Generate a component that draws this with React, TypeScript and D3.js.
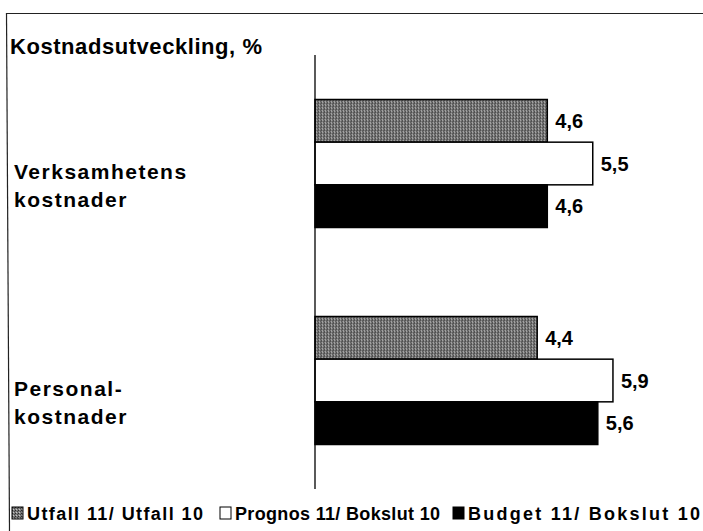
import React, { useRef, useEffect } from 'react';
import * as d3 from 'd3';

const categories = [['Verksamhetens', 'kostnader'], ['Personal-', 'kostnader']];
const seriesNames = ['Utfall 11/ Utfall 10', 'Prognos 11/ Bokslut 10', 'Budget 11/ Bokslut 10'];
const utfall = [4.6, 4.4];
const prognos = [5.5, 5.9];
const budget = [4.6, 5.6];
const title = 'Kostnadsutveckling, %';

const W = 703;
const H = 531;

const App = () => {
  const ref = useRef<SVGSVGElement>(null);

  useEffect(() => {
    const svg = d3.select(ref.current);
    svg.selectAll('*').remove();
    const font = '"Liberation Sans", Arial, sans-serif';

    // halftone-ish fill for the first series
    const defs = svg.append('defs');
    const pat = defs.append('pattern')
      .attr('id', 'dots')
      .attr('width', 3).attr('height', 3)
      .attr('patternUnits', 'userSpaceOnUse');
    pat.append('rect').attr('width', 3).attr('height', 3).attr('fill', '#7a7a7a');
    pat.append('rect').attr('width', 1).attr('height', 1).attr('fill', '#2a2a2a');
    pat.append('rect').attr('x', 2).attr('y', 1).attr('width', 1).attr('height', 1).attr('fill', '#444');
    pat.append('rect').attr('x', 1).attr('y', 2).attr('width', 1).attr('height', 1).attr('fill', '#c8c8c8');

    const fills = ['url(#dots)', '#fff', '#000'];
    const series = [utfall, prognos, budget];

    // frame (scan is a little skewed, left edge leans)
    svg.append('line')
      .attr('x1', 6).attr('y1', 13.5).attr('x2', W).attr('y2', 13.5)
      .attr('stroke', '#222').attr('stroke-width', 1.2);
    svg.append('line')
      .attr('x1', 6.5).attr('y1', 13).attr('x2', 9.5).attr('y2', H)
      .attr('stroke', '#222').attr('stroke-width', 1.2);

    svg.append('text')
      .attr('x', 10).attr('y', 54)
      .attr('font-family', font).attr('font-weight', 'bold')
      .attr('font-size', 22)
      .attr('textLength', 252).attr('lengthAdjust', 'spacing')
      .text(title);

    const x0 = 315;
    const x = d3.scaleLinear().domain([0, 1]).range([x0, x0 + 50.5]);
    const y = d3.scaleBand<number>().domain([0, 1]).range([55, 489]);
    const yInner = d3.scaleBand<number>().domain([0, 1, 2]).range([0, 128]);

    const groups = svg.selectAll('g.grp')
      .data(categories)
      .join('g')
      .attr('class', 'grp')
      .attr('transform', (_, i) => `translate(0,${y(i)! + y.bandwidth() / 2 - 64})`);

    groups.each(function (_, ci) {
      const g = d3.select(this);
      series.forEach((s, si) => {
        g.append('rect')
          .attr('x', x(0))
          .attr('y', yInner(si)!)
          .attr('width', x(s[ci]) - x(0))
          .attr('height', yInner.bandwidth())
          .attr('fill', fills[si])
          .attr('stroke', '#000')
          .attr('stroke-width', 1.5);
        g.append('text')
          .attr('x', x(s[ci]) + 8)
          .attr('y', yInner(si)! + yInner.bandwidth() / 2 + 7)
          .attr('font-family', font).attr('font-weight', 'bold')
          .attr('font-size', 20)
          .text(String(s[ci]).replace('.', ','));
      });
    });

    // category labels
    categories.forEach((lines, ci) => {
      const cy = y(ci)! + y.bandwidth() / 2;
      lines.forEach((l, li) => {
        svg.append('text')
          .attr('x', 14)
          .attr('y', cy + 15 + li * 28)
          .attr('font-family', font).attr('font-weight', 'bold')
          .attr('font-size', 21)
          .attr('letter-spacing', 1.5)
          .text(l);
      });
    });

    // axis line
    svg.append('line')
      .attr('x1', x0).attr('x2', x0)
      .attr('y1', 55).attr('y2', 489)
      .attr('stroke', '#000').attr('stroke-width', 1.3);

    // legend
    const legX = [12, 220, 453];
    const legEnd = [203, 440, 700];
    seriesNames.forEach((n, i) => {
      svg.append('rect')
        .attr('x', legX[i]).attr('y', 507)
        .attr('width', 11).attr('height', 12)
        .attr('fill', fills[i])
        .attr('stroke', '#000').attr('stroke-width', 1);
      svg.append('text')
        .attr('x', legX[i] + 15).attr('y', 520)
        .attr('font-family', font).attr('font-weight', 'bold')
        .attr('font-size', 18)
        .attr('textLength', legEnd[i] - legX[i] - 15).attr('lengthAdjust', 'spacing')
        .text(n);
    });
  }, []);

  return (
    <svg ref={ref} width={W} height={H}
      style={{ position: 'absolute', left: 0, top: 0, background: '#fff' }} />
  );
};

export default App;
